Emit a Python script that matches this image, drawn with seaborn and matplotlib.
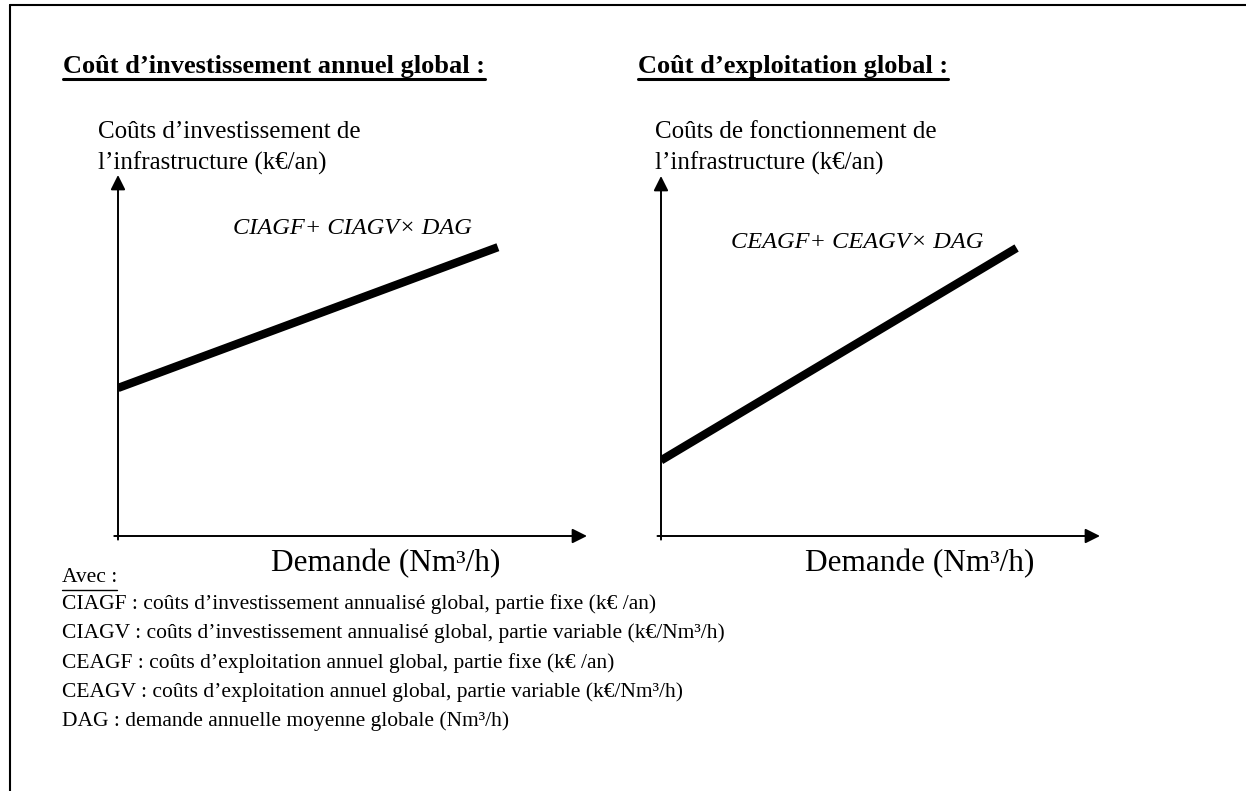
import matplotlib
matplotlib.use("Agg")
import matplotlib.pyplot as plt
from matplotlib.lines import Line2D
import seaborn as sns
import pandas as pd

# data (arbitrary units: axes span 0..10 on both directions)
demand_inv = [0.0, 8.1]
cost_inv = [4.1, 8.0]
demand_exp = [0.0, 8.1]
cost_exp = [2.1, 8.0]

titles = ["Coût d’investissement annuel global :", "Coût d’exploitation global :"]
ylabels = [["Coûts d’investissement de", "l’infrastructure (k€/an)"],
           ["Coûts de fonctionnement de", "l’infrastructure (k€/an)"]]
formulas = ["CIAGF+ CIAGV× DAG", "CEAGF+ CEAGV× DAG"]
xlabel = "Demande (Nm³/h)"
legend_head = "Avec :"
legend_lines = [
    "CIAGF : coûts d’investissement annualisé global, partie fixe (k€ /an)",
    "CIAGV : coûts d’investissement annualisé global, partie variable (k€/Nm³/h)",
    "CEAGF : coûts d’exploitation annuel global, partie fixe (k€ /an)",
    "CEAGV : coûts d’exploitation annuel global, partie variable (k€/Nm³/h)",
    "DAG : demande annuelle moyenne globale (Nm³/h)",
]

sns.set_style("white")
plt.rcParams["font.family"] = ["Liberation Serif", "DejaVu Serif"]
plt.rcParams["text.color"] = "black"

W, H = 1246, 791
fig = plt.figure(figsize=(W / 100, H / 100), dpi=100)


def fx(x):
    return x / W


def fy(y):
    return 1 - y / H


def add_axes_px(x0, x1, ytop, ybot):
    return fig.add_axes([fx(x0), fy(ybot), (x1 - x0) / W, (ybot - ytop) / H])


panels = [
    dict(box=(118, 587, 175, 536), x=demand_inv, y=cost_inv),
    dict(box=(661, 1100, 176, 536), x=demand_exp, y=cost_exp),
]

for p in panels:
    ax = add_axes_px(*p["box"])
    df = pd.DataFrame({"demande": p["x"], "cout": p["y"]})
    sns.lineplot(data=df, x="demande", y="cout", ax=ax, color="black",
                 linewidth=6, solid_capstyle="butt")
    ax.set_xlim(0, 10)
    ax.set_ylim(0, 10)
    ax.axis("off")
    arrow = dict(arrowstyle="-|>", color="black", lw=1.4, mutation_scale=22,
                 shrinkA=0, shrinkB=0)
    ax.annotate("", xy=(0, 10), xytext=(0, -0.1), arrowprops=arrow,
                annotation_clip=False)
    ax.annotate("", xy=(10, 0), xytext=(-0.08, 0), arrowprops=arrow,
                annotation_clip=False)

# texts
title_x = [63, 638]
ylab_x = [98, 655]
form_xy = [(233, 229), (731, 242)]
xlab_x = [271, 805]

underlined = []
for i in range(2):
    t = fig.text(fx(title_x[i]), fy(66), titles[i], fontsize=19,
                 fontweight="bold", va="center", ha="left")
    underlined.append((t, 79, 2.2))
    fig.text(fx(ylab_x[i]), fy(132), ylabels[i][0], fontsize=18,
             va="center", ha="left")
    fig.text(fx(ylab_x[i]), fy(163), ylabels[i][1], fontsize=18,
             va="center", ha="left")
    fig.text(fx(form_xy[i][0]), fy(form_xy[i][1]), formulas[i], fontsize=17.6,
             style="italic", va="center", ha="left")
    fig.text(fx(xlab_x[i]), fy(564), xlabel, fontsize=22.5, va="center",
             ha="left")

t = fig.text(fx(62), fy(578), legend_head, fontsize=15.5, va="center",
             ha="left")
underlined.append((t, 590, 1.0))
for k, line in enumerate(legend_lines):
    fig.text(fx(62), fy(604 + k * 29.3), line, fontsize=15.5, va="center",
             ha="left")

# underlines under text
fig.canvas.draw()
renderer = fig.canvas.get_renderer()
for t, yline, lw in underlined:
    bb = t.get_window_extent(renderer)
    fig.add_artist(Line2D([bb.x0 / W, bb.x1 / W], [fy(yline), fy(yline)],
                          transform=fig.transFigure, color="black", lw=lw))

# outer frame (top and left only)
fig.add_artist(Line2D([fx(10), 1], [fy(5), fy(5)], transform=fig.transFigure,
                      color="black", lw=1.5))
fig.add_artist(Line2D([fx(10), fx(10)], [fy(5), 0], transform=fig.transFigure,
                      color="black", lw=1.5))

fig.savefig("out.png", dpi=100)
